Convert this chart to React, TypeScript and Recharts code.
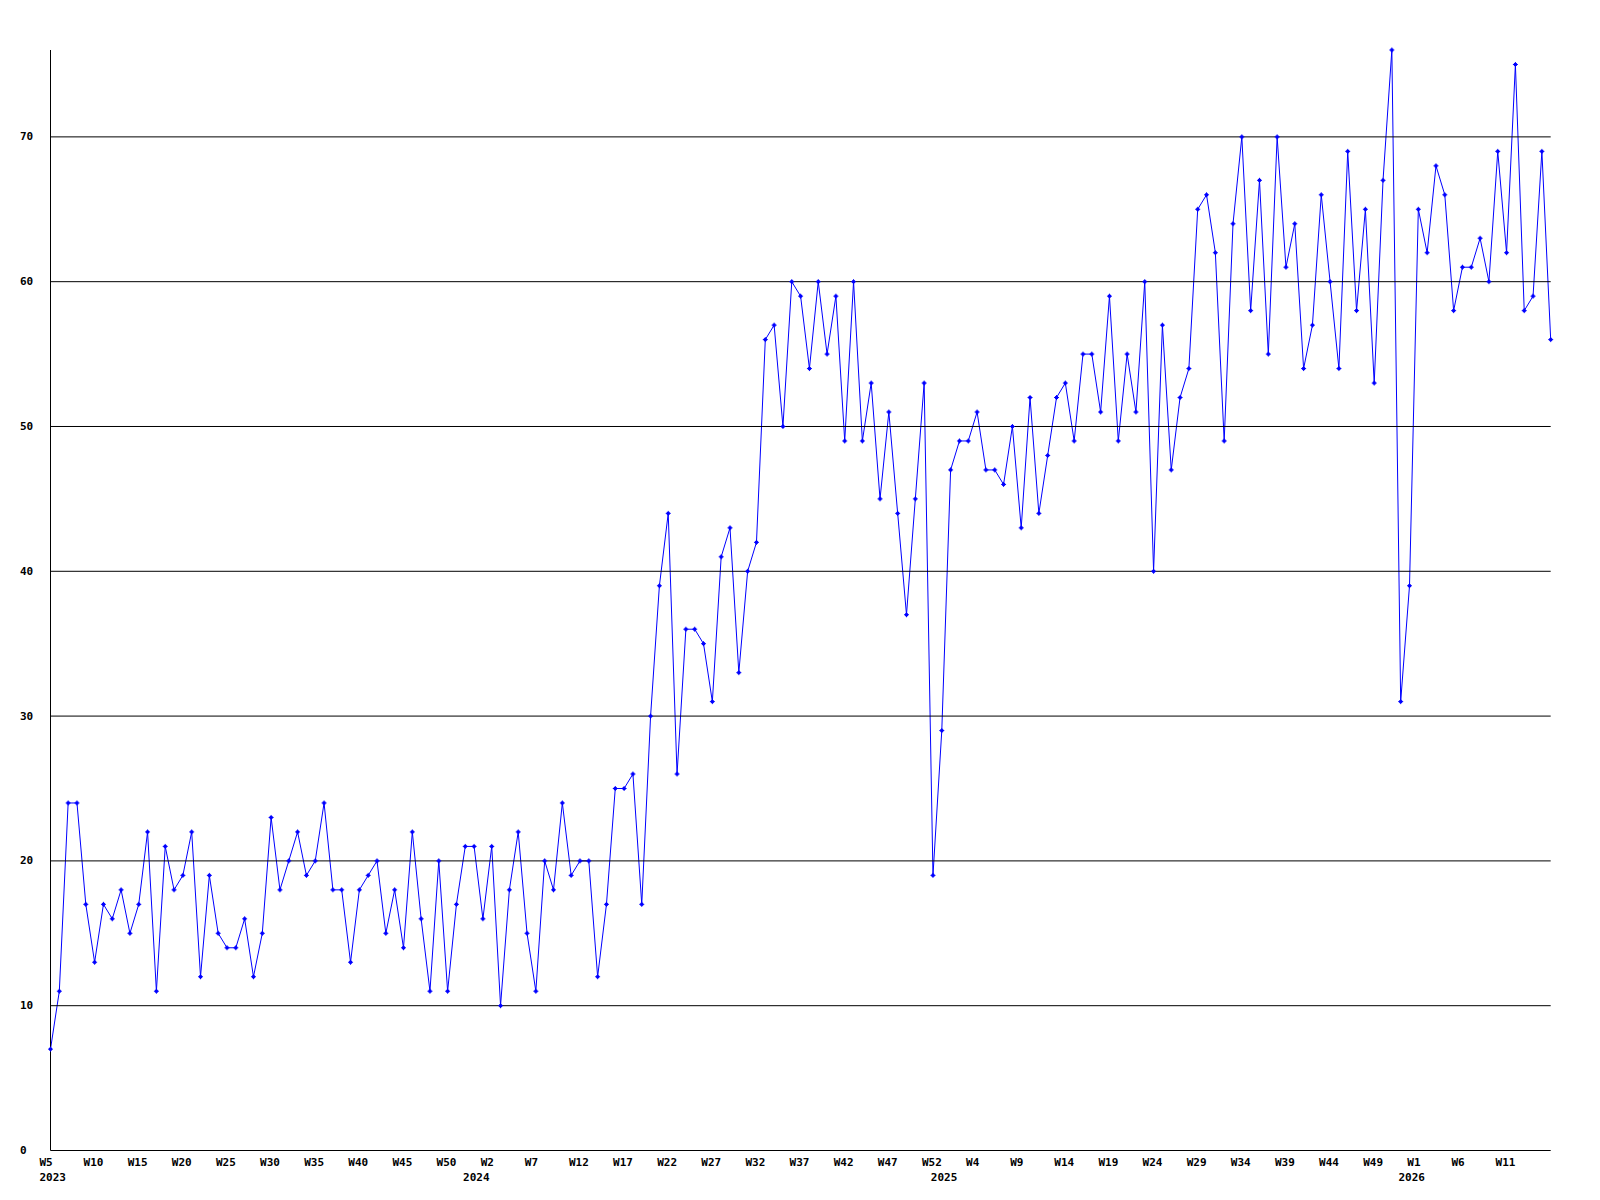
import React from 'react'
import { LineChart, Line, XAxis, YAxis, ReferenceLine } from 'recharts'

// weekly counts, 2023 W5 .. 2026
const counts = [
  7, 11, 24, 24, 17, 13, 17, 16, 18, 15,
  17, 22, 11, 21, 18, 19, 22, 12, 19, 15,
  14, 14, 16, 12, 15, 23, 18, 20, 22, 19,
  20, 24, 18, 18, 13, 18, 19, 20, 15, 18,
  14, 22, 16, 11, 20, 11, 17, 21, 21, 16,
  21, 10, 18, 22, 15, 11, 20, 18, 24, 19,
  20, 20, 12, 17, 25, 25, 26, 17, 30, 39,
  44, 26, 36, 36, 35, 31, 41, 43, 33, 40,
  42, 56, 57, 50, 60, 59, 54, 60, 55, 59,
  49, 60, 49, 53, 45, 51, 44, 37, 45, 53,
  19, 29, 47, 49, 49, 51, 47, 47, 46, 50,
  43, 52, 44, 48, 52, 53, 49, 55, 55, 51,
  59, 49, 55, 51, 60, 40, 57, 47, 52, 54,
  65, 66, 62, 49, 64, 70, 58, 67, 55, 70,
  61, 64, 54, 57, 66, 60, 54, 69, 58, 65,
  53, 67, 76, 31, 39, 65, 62, 68, 66, 58,
  61, 61, 63, 60, 69, 62, 75, 58, 59, 69,
  56,
]

// one week label every 5th point
const weekTickLabels = [
  'W5', 'W10', 'W15', 'W20', 'W25', 'W30', 'W35', 'W40', 'W45', 'W50',
  'W2', 'W7', 'W12', 'W17', 'W22', 'W27', 'W32', 'W37', 'W42', 'W47', 'W52',
  'W4', 'W9', 'W14', 'W19', 'W24', 'W29', 'W34', 'W39', 'W44', 'W49',
  'W1', 'W6', 'W11',
]
const yearLabels = ['2023', '2024', '2025', '2026']
const yearTickIndex = [0, 48, 101, 154]
const yTicks = [0, 10, 20, 30, 40, 50, 60, 70]

const data = counts.map((v, i) => ({ i, v }))

const FONT = '"DejaVu Sans Mono", "Liberation Mono", monospace'

function XTick(props: any) {
  const { x, y, payload } = props
  const i = payload.value as number
  const week = i % 5 === 0 ? weekTickLabels[i / 5] : null
  const yi = yearTickIndex.indexOf(i)
  return (
    <g>
      {week && (
        <text x={x - 11} y={y + 13.5} fontFamily={FONT} fontSize={11} fontWeight="bold" fill="#000">
          {week}
        </text>
      )}
      {yi >= 0 && (
        <text x={x - 11} y={y + 28.5} fontFamily={FONT} fontSize={11} fontWeight="bold" fill="#000">
          {yearLabels[yi]}
        </text>
      )}
    </g>
  )
}

function YTick(props: any) {
  const { y, payload } = props
  return (
    <text x={20} y={y + 3.5} fontFamily={FONT} fontSize={11} fontWeight="bold" fill="#000">
      {payload.value}
    </text>
  )
}

function Marker(props: any) {
  const { cx, cy, index } = props
  if (cx == null || cy == null) return <g key={index} />
  return (
    <g key={index} fill="#0000ff">
      <rect x={cx - 2.5} y={cy - 0.5} width={5} height={1} />
      <rect x={cx - 1.5} y={cy - 1.5} width={3} height={3} />
      <rect x={cx - 0.5} y={cy - 2.5} width={1} height={5} />
    </g>
  )
}

export default function App() {
  return (
    <div style={{ position: 'absolute', left: 0, top: 0, background: '#fff' }}>
      <LineChart
        width={1600}
        height={1200}
        data={data}
        margin={{ top: 50, right: 49.3, left: 0, bottom: 0 }}
      >
        <XAxis
          dataKey="i"
          type="category"
          interval={0}
          height={49.5}
          tickLine={false}
          tickSize={0}
          axisLine={{ stroke: '#000', strokeWidth: 1 }}
          tick={<XTick />}
        />
        <YAxis
          domain={[0, 76]}
          ticks={yTicks}
          width={50.5}
          tickLine={false}
          tickSize={0}
          axisLine={{ stroke: '#000', strokeWidth: 1 }}
          tick={<YTick />}
        />
        <Line
          type="linear"
          dataKey="v"
          stroke="#0000ff"
          strokeWidth={1}
          dot={Marker}
          activeDot={false}
          isAnimationActive={false}
        />
        {yTicks.slice(1).map((t) => (
          <ReferenceLine key={t} y={t} stroke="#000" strokeWidth={1} />
        ))}
      </LineChart>
    </div>
  )
}
